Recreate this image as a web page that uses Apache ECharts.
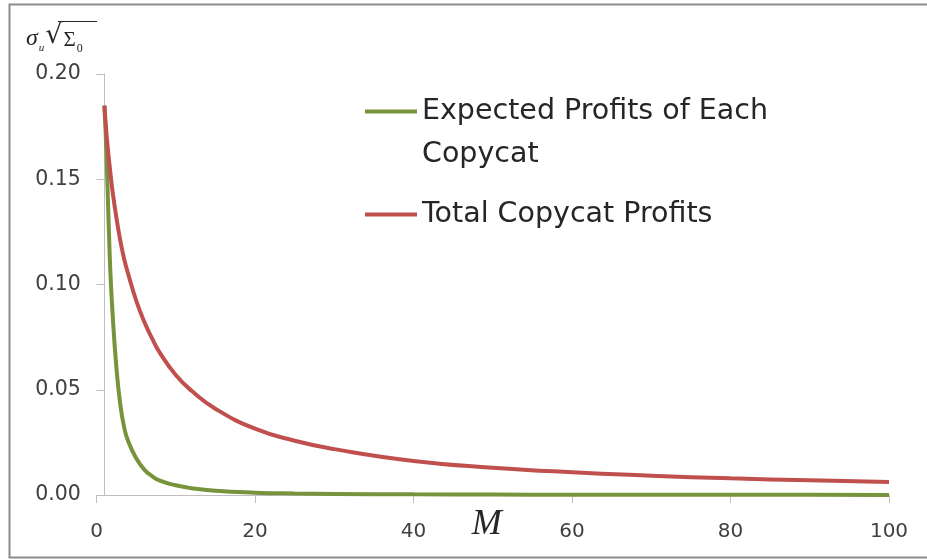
<!DOCTYPE html>
<html>
<head>
<meta charset="utf-8">
<script src="https://cdn.jsdelivr.net/npm/echarts@6/dist/echarts.min.js"></script>
<style>
  html, body { margin: 0; padding: 0; background: #fff; }
  #chart { width: 927px; height: 559px; }
</style>
</head>
<body>
<div id="chart"></div>
<script>
// Number of copycats M
const copycatCounts = [1, 1.25, 1.5, 1.75, 2, 2.5, 3, 3.5, 4, 5, 6, 7, 8, 10, 12, 15, 20, 25, 30, 40, 50, 60, 70, 80, 90, 100];
// Expected profits of each copycat
const profitEach = [0.185, 0.163, 0.133, 0.106, 0.088, 0.061, 0.043, 0.032, 0.0255, 0.0175, 0.0122, 0.009, 0.0068, 0.0046, 0.0032, 0.002, 0.0011, 0.0007, 0.0005, 0.0003, 0.0002, 0.00015, 0.0001, 0.00008, 0.00006, 0.00005];
// Total copycat profits
const profitTotal = [0.185, 0.172, 0.162, 0.153, 0.145, 0.132, 0.121, 0.112, 0.105, 0.0925, 0.0825, 0.0745, 0.0675, 0.0570, 0.0495, 0.041, 0.0315, 0.0258, 0.0218, 0.0162, 0.0130, 0.0108, 0.0092, 0.0079, 0.0070, 0.0062];
const seriesNames = ['Expected Profits of Each Copycat', 'Total Copycat Profits'];
const xTickValues = [0, 20, 40, 60, 80, 100];
const yTickValues = [0, 0.05, 0.10, 0.15, 0.20];

const toPairs = (xs, ys) => xs.map((x, i) => [x, ys[i]]);

const axisGrey = '#BFBFBF';
const labelColor = '#404040';
const uiFont = 'DejaVu Sans';

const chart = echarts.init(document.getElementById('chart'), null, { renderer: 'canvas' });

chart.setOption({
  backgroundColor: '#ffffff',
  animation: false,
  grid: { left: 96.5, right: 38, top: 74, bottom: 64, containLabel: false, outerBoundsMode: 'none' },
  xAxis: {
    type: 'value',
    min: xTickValues[0],
    max: xTickValues[xTickValues.length - 1],
    interval: 20,
    axisLine: { show: true, onZero: false, lineStyle: { color: axisGrey, width: 1 } },
    axisTick: { show: true, inside: false, length: 8, lineStyle: { color: axisGrey } },
    splitLine: { show: false },
    axisLabel: { margin: 27, fontSize: 20, fontFamily: uiFont, color: labelColor },
    name: 'M',
    nameLocation: 'middle',
    nameGap: 12,
    nameMoveOverlap: false,
    nameTextStyle: {
      fontFamily: 'Liberation Serif', fontStyle: 'italic', fontSize: 36,
      color: '#262626', padding: [0, 12, 0, 0]
    }
  },
  yAxis: {
    type: 'value',
    min: yTickValues[0],
    max: yTickValues[yTickValues.length - 1],
    interval: 0.05,
    offset: -7.9,
    axisLine: { show: true, onZero: false, lineStyle: { color: axisGrey, width: 1 } },
    axisTick: { show: true, inside: false, length: 8, lineStyle: { color: axisGrey } },
    splitLine: { show: false },
    axisLabel: {
      margin: 23.5, fontSize: 20.5, fontFamily: uiFont, color: labelColor,
      formatter: v => v.toFixed(2)
    }
  },
  legend: {
    orient: 'vertical',
    left: 365,
    top: 47,
    padding: 0,
    itemWidth: 52,
    itemHeight: 4,
    itemGap: 17,
    icon: 'rect',
    data: seriesNames,
    textStyle: { fontFamily: uiFont, fontSize: 28.5, color: '#262626', lineHeight: 43 },
    formatter: name => name === seriesNames[0] ? '\nExpected Profits of Each\nCopycat' : name
  },
  graphic: [
    {
      type: 'rect',
      shape: { x: 9.5, y: 4.5, width: 930, height: 553 },
      style: { fill: 'none', stroke: '#8C8C8C', lineWidth: 2 },
      silent: true
    },
    {
      type: 'text',
      left: 26,
      top: 22,
      style: {
        text: '{s|σ}{u|u}{r|√}{S|Σ}{z|0}',
        rich: {
          s: { fontFamily: 'Liberation Serif', fontStyle: 'italic', fontSize: 24, verticalAlign: 'top', lineHeight: 30, padding: [3, 0, 0, 0], fill: '#262626' },
          u: { fontFamily: 'Liberation Serif', fontStyle: 'italic', fontSize: 11, verticalAlign: 'top', lineHeight: 30, padding: [19, 1, 0, 1], fill: '#262626' },
          r: { fontFamily: 'DejaVu Serif', fontSize: 27, verticalAlign: 'top', lineHeight: 30, padding: [-2, 0, 0, 0], fill: '#262626' },
          S: { fontFamily: 'Liberation Serif', fontSize: 21, verticalAlign: 'top', lineHeight: 30, padding: [6, 0, 0, 1], fill: '#262626' },
          z: { fontFamily: 'Liberation Serif', fontSize: 12, verticalAlign: 'top', lineHeight: 30, padding: [19, 0, 0, 1], fill: '#262626' }
        }
      },
      silent: true
    },
    {
      type: 'line',
      shape: { x1: 58, y1: 21.5, x2: 97, y2: 21.5 },
      style: { stroke: '#262626', lineWidth: 1.2 },
      silent: true
    }
  ],
  series: [
    {
      name: seriesNames[0],
      type: 'line',
      data: toPairs(copycatCounts, profitEach),
      smooth: 0.5,
      showSymbol: false,
      symbol: 'none',
      lineStyle: { color: '#77933C', width: 4 },
      itemStyle: { color: '#77933C' },
      z: 2
    },
    {
      name: seriesNames[1],
      type: 'line',
      data: toPairs(copycatCounts, profitTotal),
      smooth: 0.5,
      showSymbol: false,
      symbol: 'none',
      lineStyle: { color: '#C0504D', width: 4 },
      itemStyle: { color: '#C0504D' },
      z: 3
    }
  ]
});
</script>
</body>
</html>
